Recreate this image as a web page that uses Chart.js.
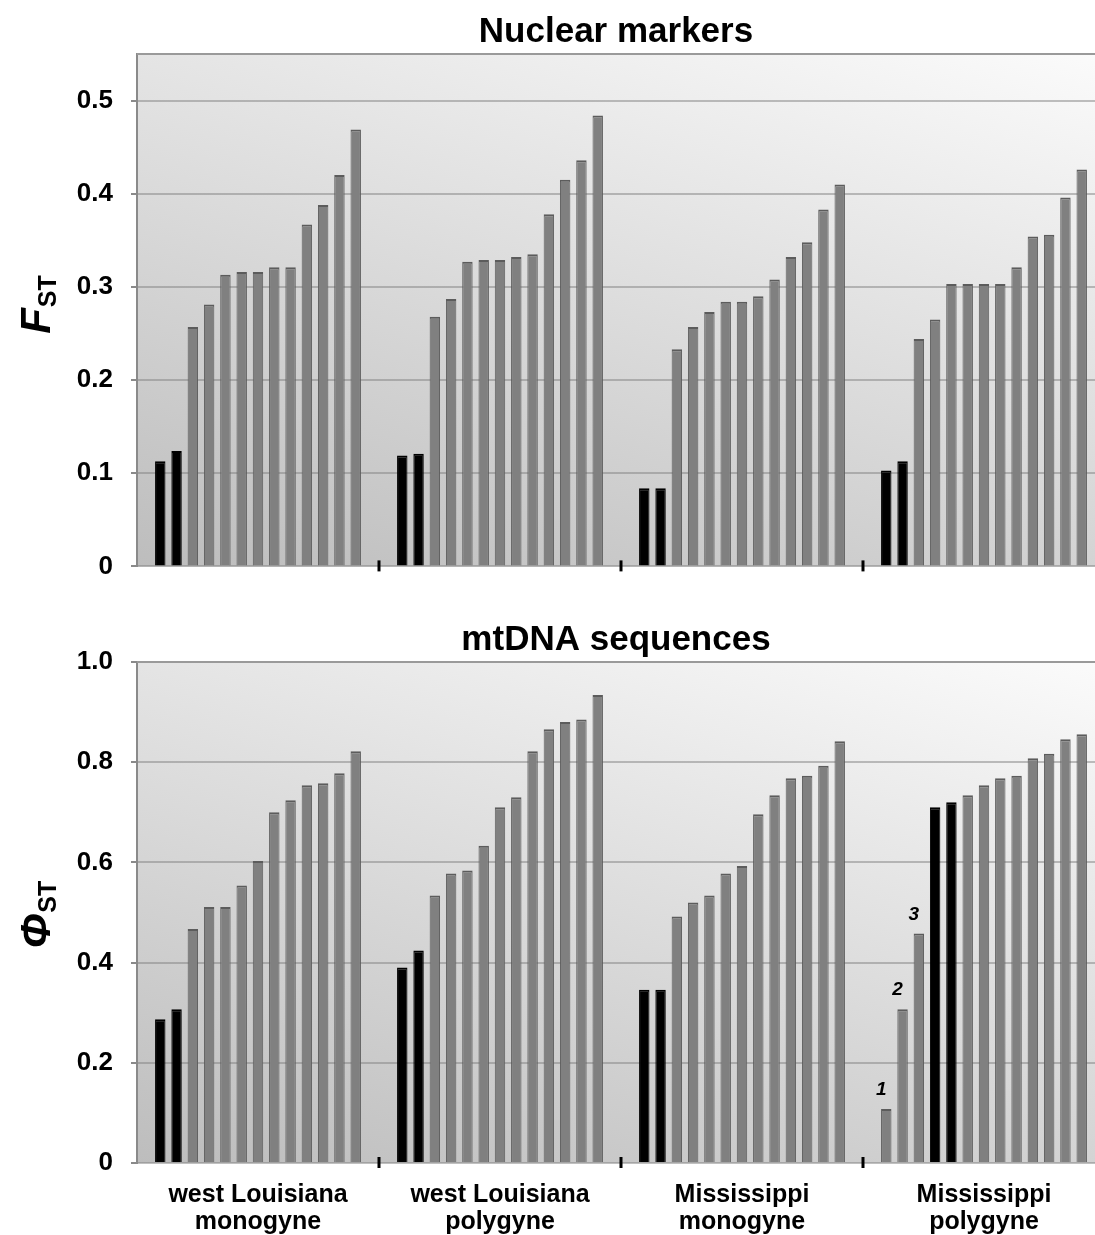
<!DOCTYPE html>
<html>
<head>
<meta charset="utf-8">
<script src="https://cdn.jsdelivr.net/npm/chart.js@4.4.1/dist/chart.umd.min.js"></script>
<style>
  html, body { margin: 0; padding: 0; background: #fff; overflow: hidden; }
  #wrap { position: relative; width: 1095px; height: 1235px; overflow: hidden; }
  canvas { position: absolute; left: 0; }
  #fstChart { top: 0; }
  #phiChart { top: 600px; }
</style>
</head>
<body>
<div id="wrap">
  <canvas id="fstChart" width="1110" height="600"></canvas>
  <canvas id="phiChart" width="1110" height="635"></canvas>
</div>
<script>
// Grupos de poblaciones (eje x)
const groupLabels = [
  ['west Louisiana', 'monogyne'],
  ['west Louisiana', 'polygyne'],
  ['Mississippi', 'monogyne'],
  ['Mississippi', 'polygyne']
];

// FST por pares, marcadores nucleares (13 barras por grupo, ordenadas)
const fstWestLaMono = [0.113, 0.124, 0.257, 0.281, 0.313, 0.316, 0.316, 0.321, 0.321, 0.367, 0.388, 0.420, 0.469];
const fstWestLaPoly = [0.119, 0.121, 0.268, 0.287, 0.327, 0.329, 0.329, 0.332, 0.335, 0.378, 0.415, 0.436, 0.484];
const fstMissMono   = [0.084, 0.084, 0.233, 0.257, 0.273, 0.284, 0.284, 0.290, 0.308, 0.332, 0.348, 0.383, 0.410];
const fstMissPoly   = [0.103, 0.113, 0.244, 0.265, 0.303, 0.303, 0.303, 0.303, 0.321, 0.354, 0.356, 0.396, 0.426];

// PhiST por pares, secuencias de mtDNA
const phiWestLaMono = [0.287, 0.307, 0.467, 0.511, 0.511, 0.554, 0.603, 0.700, 0.724, 0.754, 0.758, 0.778, 0.822];
const phiWestLaPoly = [0.390, 0.424, 0.534, 0.578, 0.584, 0.633, 0.710, 0.730, 0.822, 0.866, 0.880, 0.885, 0.934];
const phiMissMono   = [0.346, 0.346, 0.492, 0.520, 0.534, 0.578, 0.593, 0.696, 0.734, 0.768, 0.773, 0.793, 0.842];
const phiMissPoly   = [0.108, 0.307, 0.458, 0.710, 0.720, 0.734, 0.754, 0.768, 0.773, 0.808, 0.817, 0.846, 0.856];

// Barras negras (índices dentro de cada grupo)
const fstBlackBars = [[0, 1], [0, 1], [0, 1], [0, 1]];
const phiBlackBars = [[0, 1], [0, 1], [0, 1], [3, 4]];

// Barras numeradas del último grupo de mtDNA
const phiNumberedGroup = 3;
const phiNumberedBars = [0, 1, 2];
const phiNumberText = ['1', '2', '3'];

const FONT = '"Liberation Sans", Arial, sans-serif';

// Una serie por posición de barra: la serie i es la barra i de cada grupo
function buildDatasets(groups, black) {
  const n = groups[0].length;
  return Array.from({ length: n }, (_, i) => ({
    data: groups.map(g => g[i]),
    backgroundColor: groups.map((g, k) => black[k].includes(i) ? '#000000' : '#808080'),
    borderColor: groups.map((g, k) => black[k].includes(i) ? '#000000' : '#5c5c5c'),
    borderWidth: { top: 2, left: 1, right: 1, bottom: 0 },
    borderSkipped: 'bottom',
    barPercentage: 0.64,
    categoryPercentage: 0.875
  }));
}

// Fondo degradado, borde superior, marcas entre grupos, títulos y etiquetas
function panelDecor(title, yTitleMain, yTitleCenter, numbered) {
  return {
    id: 'panelDecor',
    beforeDraw(chart) {
      const { ctx, chartArea: a } = chart;
      const ux = 0.3, uy = -1, len = Math.hypot(ux, uy);
      const dx = ux / len, dy = uy / len;
      const L = (a.right - a.left) * dx + (a.bottom - a.top) * -dy;
      const g = ctx.createLinearGradient(a.left, a.bottom, a.left + L * dx, a.bottom + L * dy);
      g.addColorStop(0, '#bdbdbd');
      g.addColorStop(1, '#fbfbfb');
      ctx.save();
      ctx.fillStyle = g;
      ctx.fillRect(a.left, a.top, a.right - a.left, a.bottom - a.top);
      ctx.restore();
    },
    afterDraw(chart) {
      const { ctx, chartArea: a } = chart;
      const x = chart.scales.x;
      ctx.save();
      // borde superior del área
      ctx.strokeStyle = '#9a9a9a';
      ctx.lineWidth = 2;
      ctx.beginPath();
      ctx.moveTo(a.left, a.top);
      ctx.lineTo(a.right, a.top);
      ctx.stroke();
      // marcas negras entre grupos
      ctx.fillStyle = '#000';
      for (let i = 1; i < groupLabels.length; i++) {
        const px = (x.getPixelForValue(i - 1) + x.getPixelForValue(i)) / 2;
        ctx.fillRect(px - 1.5, a.bottom - 6, 3, 11);
      }
      // título del panel
      ctx.textAlign = 'center';
      ctx.textBaseline = 'alphabetic';
      ctx.font = 'bold 35px ' + FONT;
      ctx.fillText(title, (a.left + a.right) / 2 - 5, a.top - 12);
      // título del eje y con subíndice
      ctx.translate(50, yTitleCenter);
      ctx.rotate(-Math.PI / 2);
      ctx.textAlign = 'left';
      ctx.font = 'italic bold 42px ' + FONT;
      const wMain = ctx.measureText(yTitleMain).width;
      ctx.font = 'bold 25px ' + FONT;
      const wSub = ctx.measureText('ST').width;
      const start = -(wMain + wSub) / 2;
      ctx.font = 'italic bold 42px ' + FONT;
      ctx.fillText(yTitleMain, start, 0);
      ctx.font = 'bold 25px ' + FONT;
      ctx.fillText('ST', start + wMain + 1, 6);
      ctx.restore();
      // números sobre barras
      if (numbered) {
        ctx.save();
        ctx.font = 'italic bold 19px ' + FONT;
        ctx.textAlign = 'center';
        ctx.textBaseline = 'alphabetic';
        ctx.fillStyle = '#000';
        numbered.bars.forEach((b, j) => {
          const el = chart.getDatasetMeta(b).data[numbered.group];
          ctx.fillText(numbered.text[j], el.x - 5, el.y - 14);
        });
        ctx.restore();
      }
    }
  };
}

function makeOptions(yMax, yStep, padTop, xHeight, showLabels) {
  return {
    responsive: false,
    animation: false,
    layout: { padding: { top: padTop, right: 5, left: 0, bottom: 0 } },
    plugins: { legend: { display: false }, tooltip: { enabled: false } },
    scales: {
      x: {
        type: 'category',
        offset: true,
        grid: { display: false, drawTicks: false },
        border: { display: false },
        ticks: {
          display: showLabels,
          color: '#000',
          font: { family: FONT, size: 25, weight: 'bold', lineHeight: 1.1 },
          padding: 18,
          maxRotation: 0,
          autoSkip: false
        },
        afterFit(s) { s.height = xHeight; }
      },
      y: {
        min: 0,
        max: yMax,
        ticks: {
          stepSize: yStep,
          includeBounds: false,
          color: '#000',
          padding: 18,
          font: { family: FONT, size: 26, weight: 'bold' },
          callback: v => v === 0 ? '0' : v.toFixed(1)
        },
        grid: { color: 'rgba(130,130,130,0.5)', lineWidth: 2, tickLength: 6, tickColor: '#8a8a8a' },
        border: { color: '#8a8a8a', width: 2 },
        afterFit(s) { s.width = 137; }
      }
    }
  };
}

new Chart(document.getElementById('fstChart'), {
  type: 'bar',
  data: {
    labels: groupLabels,
    datasets: buildDatasets([fstWestLaMono, fstWestLaPoly, fstMissMono, fstMissPoly], fstBlackBars)
  },
  options: makeOptions(0.55, 0.1, 54, 25, false),
  plugins: [panelDecor('Nuclear markers', 'F', 305, null)]
});

new Chart(document.getElementById('phiChart'), {
  type: 'bar',
  data: {
    labels: groupLabels,
    datasets: buildDatasets([phiWestLaMono, phiWestLaPoly, phiMissMono, phiMissPoly], phiBlackBars)
  },
  options: makeOptions(1.0, 0.2, 62, 72, true),
  plugins: [panelDecor('mtDNA sequences', 'Φ', 315,
    { group: phiNumberedGroup, bars: phiNumberedBars, text: phiNumberText })]
});
</script>
</body>
</html>
